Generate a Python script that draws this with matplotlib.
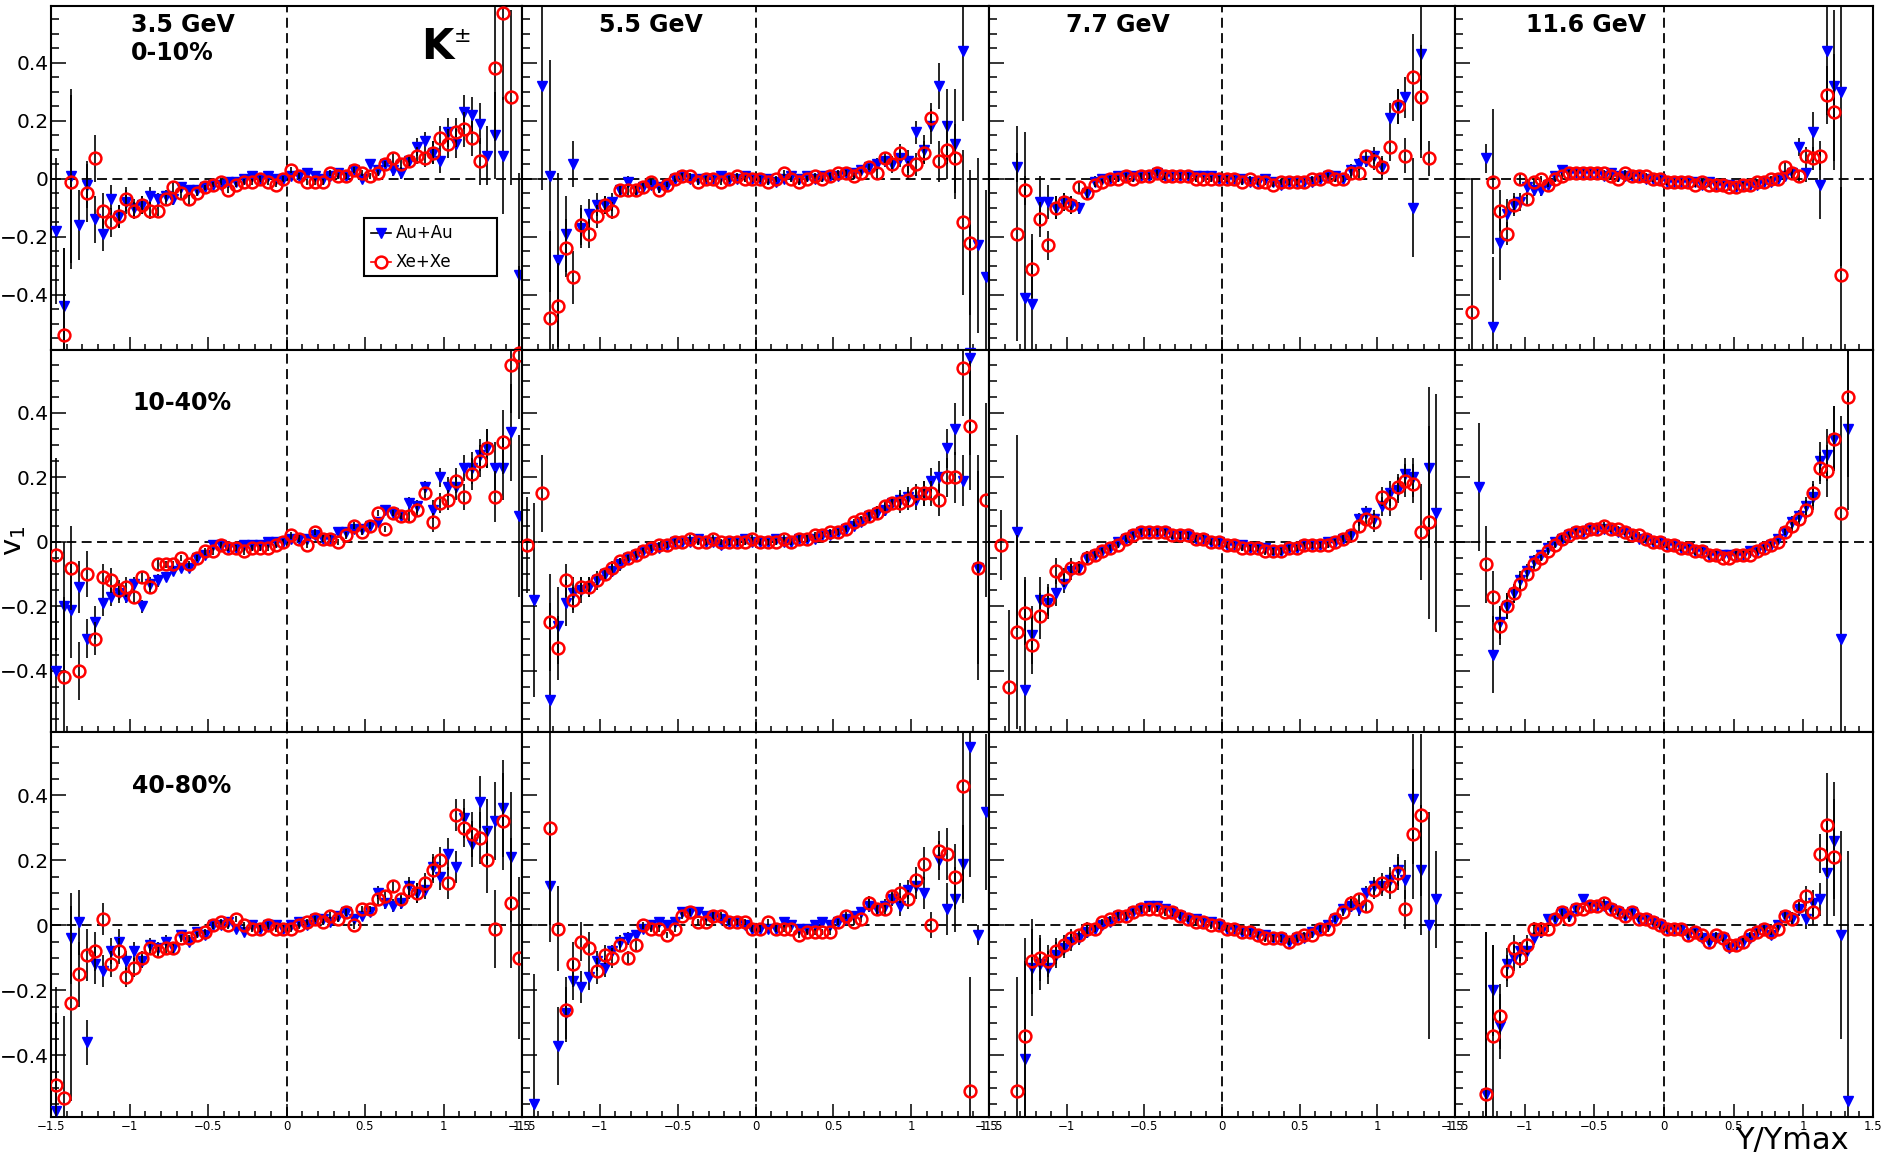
import numpy as np
import matplotlib
matplotlib.use('Agg')
from matplotlib import pyplot as plt
from matplotlib.patches import Rectangle
from matplotlib.ticker import MultipleLocator, FuncFormatter

nan = np.nan

# Y/Ymax bin centres for each beam energy
x_35 = [-1.47, -1.42, -1.37, -1.32, -1.27, -1.22, -1.17, -1.12, -1.07, -1.02,
        -0.97, -0.92, -0.87, -0.82, -0.77, -0.72, -0.67, -0.62, -0.57, -0.52,
        -0.47, -0.42, -0.37, -0.32, -0.27, -0.22, -0.17, -0.12, -0.07, -0.02,
        0.03, 0.08, 0.13, 0.18, 0.23, 0.28, 0.33, 0.38, 0.43, 0.48,
        0.53, 0.58, 0.63, 0.68, 0.73, 0.78, 0.83, 0.88, 0.93, 0.98,
        1.03, 1.08, 1.13, 1.18, 1.23, 1.28, 1.33, 1.38, 1.43, 1.48]
x_55 = x_35
x_77 = [-1.42, -1.37, -1.32, -1.27, -1.22, -1.17, -1.12, -1.07, -1.02, -0.97,
        -0.92, -0.87, -0.82, -0.77, -0.72, -0.67, -0.62, -0.57, -0.52, -0.47,
        -0.42, -0.37, -0.32, -0.27, -0.22, -0.17, -0.12, -0.07, -0.02, 0.03,
        0.08, 0.13, 0.18, 0.23, 0.28, 0.33, 0.38, 0.43, 0.48, 0.53,
        0.58, 0.63, 0.68, 0.73, 0.78, 0.83, 0.88, 0.93, 0.98, 1.03,
        1.08, 1.13, 1.18, 1.23, 1.28, 1.33, 1.38]
x_116 = [-1.38, -1.33, -1.28, -1.23, -1.18, -1.13, -1.08, -1.03, -0.98, -0.93,
         -0.88, -0.83, -0.78, -0.73, -0.68, -0.63, -0.58, -0.53, -0.48, -0.43,
         -0.38, -0.33, -0.28, -0.23, -0.18, -0.13, -0.08, -0.03, 0.02, 0.07,
         0.12, 0.17, 0.22, 0.27, 0.32, 0.37, 0.42, 0.47, 0.52, 0.57,
         0.62, 0.67, 0.72, 0.77, 0.82, 0.87, 0.92, 0.97, 1.02, 1.07,
         1.12, 1.17, 1.22, 1.27, 1.32]

# ---------------- 3.5 GeV ----------------
au_35_0 = [-0.18, -0.44, 0.01, -0.16, -0.02, -0.14, -0.19, -0.07, -0.13, -0.08,
           -0.10, -0.09, -0.06, -0.07, -0.06, -0.07, -0.03, -0.04, -0.04, -0.03,
           -0.02, -0.02, -0.01, -0.01, 0.00, 0.01, 0.00, 0.01, 0.00, 0.00,
           0.01, 0.01, 0.02, 0.01, 0.00, 0.01, 0.02, 0.01, 0.03, 0.00,
           0.05, 0.03, 0.05, 0.03, 0.02, 0.06, 0.11, 0.13, 0.09, 0.06,
           0.16, 0.12, 0.23, 0.22, 0.19, 0.08, 0.15, 0.08, nan, -0.33]
au_35_0_err = [.25, .20, .30, .12, .08, .08, .06, .05, .04, .04,
               .03, .03, .03, .02, .02, .02, .02, .02, .01, .01,
               .01, .01, .01, .01, .01, .01, .01, .01, .01, .01,
               .01, .01, .01, .01, .01, .01, .01, .01, .01, .01,
               .01, .01, .01, .02, .02, .02, .03, .03, .04, .04,
               .05, .05, .06, .06, .07, .10, .15, .20, 0, .35]
xe_35_0 = [nan, -0.54, -0.01, nan, -0.05, 0.07, -0.11, -0.15, -0.13, -0.07,
           -0.11, -0.09, -0.11, -0.11, -0.07, -0.03, -0.05, -0.07, -0.05, -0.03,
           -0.02, -0.01, -0.04, -0.02, -0.01, -0.01, 0.00, -0.01, -0.02, 0.00,
           0.03, 0.01, -0.01, -0.01, -0.01, 0.02, 0.01, 0.01, 0.03, 0.02,
           0.01, 0.02, 0.05, 0.07, 0.05, 0.06, 0.08, 0.07, 0.09, 0.14,
           0.12, 0.16, 0.17, 0.14, 0.06, nan, 0.38, 0.57, 0.28, -0.60]
xe_35_0_err = [0, .30, .30, 0, .10, .08, .06, .05, .04, .04,
               .03, .03, .03, .02, .02, .02, .02, .02, .01, .01,
               .01, .01, .01, .01, .01, .01, .01, .01, .01, .01,
               .01, .01, .01, .01, .01, .01, .01, .01, .01, .01,
               .01, .01, .01, .02, .02, .02, .03, .03, .04, .04,
               .05, .05, .06, .06, .08, 0, .25, .30, .30, .30]

au_35_1 = [-0.40, -0.20, -0.21, -0.14, -0.30, -0.25, -0.19, -0.17, -0.16, -0.17,
           -0.13, -0.20, -0.13, -0.12, -0.11, -0.09, -0.08, -0.08, -0.05, -0.04,
           -0.01, -0.01, -0.02, -0.02, -0.01, -0.01, -0.01, 0.00, 0.00, 0.00,
           0.01, 0.01, 0.01, 0.02, 0.01, 0.01, 0.03, 0.03, 0.04, 0.04,
           0.05, 0.06, 0.10, 0.09, 0.08, 0.12, 0.11, 0.17, 0.10, 0.20,
           0.17, 0.17, 0.23, 0.23, 0.27, 0.29, 0.23, 0.23, 0.34, 0.08]
au_35_1_err = [.20, .20, .15, .08, .06, .05, .04, .03, .03, .02,
               .02, .02, .02, .02, .01, .01, .01, .01, .01, .01,
               .01, .01, .01, .01, .01, .01, .01, .01, .01, .01,
               .01, .01, .01, .01, .01, .01, .01, .01, .01, .01,
               .01, .01, .01, .01, .01, .02, .02, .02, .03, .03,
               .03, .04, .04, .05, .05, .06, .08, .10, .15, .25]
xe_35_1 = [-0.04, -0.42, -0.08, -0.40, -0.10, -0.30, -0.11, -0.12, -0.15, -0.14,
           -0.17, -0.11, -0.14, -0.07, -0.07, -0.07, -0.05, -0.07, -0.05, -0.03,
           -0.03, -0.01, -0.02, -0.02, -0.03, -0.02, -0.02, -0.02, -0.01, 0.00,
           0.02, 0.01, -0.01, 0.03, 0.01, 0.01, 0.00, 0.02, 0.05, 0.03,
           0.05, 0.09, 0.04, 0.09, 0.08, 0.08, 0.10, 0.15, 0.06, 0.12,
           0.13, 0.19, 0.14, 0.21, 0.25, 0.29, 0.14, 0.31, 0.55, 0.58]
xe_35_1_err = [.30, .25, .13, .09, .07, .05, .04, .04, .03, .03,
               .02, .02, .02, .02, .01, .01, .01, .01, .01, .01,
               .01, .01, .01, .01, .01, .01, .01, .01, .01, .01,
               .01, .01, .01, .01, .01, .01, .01, .01, .01, .01,
               .01, .01, .01, .01, .01, .02, .02, .02, .03, .03,
               .03, .04, .04, .05, .05, .06, .08, .10, .15, .20]

au_35_2 = [-0.57, nan, -0.04, 0.01, -0.36, -0.12, -0.14, -0.08, -0.05, -0.11,
           -0.08, -0.11, -0.06, -0.07, -0.05, -0.07, -0.03, -0.05, -0.02, -0.03,
           0.00, 0.00, 0.01, -0.01, -0.02, 0.00, -0.01, 0.00, 0.00, -0.01,
           0.00, 0.01, 0.00, 0.02, 0.02, 0.01, 0.03, 0.04, 0.02, 0.03,
           0.04, 0.10, 0.07, 0.06, 0.07, 0.12, 0.10, 0.11, 0.18, 0.15,
           0.22, 0.18, 0.33, 0.25, 0.38, 0.29, 0.32, 0.36, 0.21, nan]
au_35_2_err = [.30, 0, .14, .10, .07, .06, .05, .04, .04, .03,
               .03, .02, .02, .02, .02, .02, .01, .01, .01, .01,
               .01, .01, .01, .01, .01, .01, .01, .01, .01, .01,
               .01, .01, .01, .01, .01, .01, .01, .01, .01, .01,
               .01, .02, .02, .02, .02, .03, .03, .03, .04, .04,
               .05, .05, .06, .07, .08, .10, .12, .15, .20, 0]
xe_35_2 = [-0.49, -0.53, -0.24, -0.15, -0.09, -0.08, 0.02, -0.12, -0.08, -0.16,
           -0.13, -0.10, -0.07, -0.08, -0.07, -0.07, -0.04, -0.04, -0.03, -0.02,
           0.00, 0.01, 0.00, 0.02, 0.00, -0.01, -0.01, 0.00, -0.01, -0.01,
           -0.01, 0.00, 0.01, 0.02, 0.01, 0.03, 0.02, 0.04, 0.00, 0.05,
           0.05, 0.08, 0.09, 0.12, 0.08, 0.11, 0.10, 0.13, 0.17, 0.20,
           0.13, 0.34, 0.30, 0.28, 0.27, 0.20, -0.01, 0.32, 0.07, -0.10]
xe_35_2_err = [.30, .25, .30, .10, .08, .06, .05, .04, .04, .03,
               .03, .02, .02, .02, .02, .02, .01, .01, .01, .01,
               .01, .01, .01, .01, .01, .01, .01, .01, .01, .01,
               .01, .01, .01, .01, .01, .01, .01, .01, .01, .01,
               .01, .02, .02, .02, .02, .03, .03, .03, .04, .04,
               .05, .05, .06, .07, .08, .10, .12, .15, .20, .25]

# ---------------- 5.5 GeV ----------------
au_55_0 = [nan, nan, 0.32, 0.01, -0.28, -0.19, 0.05, -0.17, -0.12, -0.09,
           -0.09, -0.08, -0.04, -0.01, -0.04, -0.03, -0.02, -0.03, -0.02, 0.00,
           0.01, 0.00, 0.00, 0.00, 0.00, 0.01, 0.00, 0.00, 0.01, 0.00,
           0.00, 0.00, -0.01, 0.00, 0.01, 0.00, 0.01, 0.00, 0.01, 0.01,
           0.01, 0.02, 0.02, 0.03, 0.04, 0.05, 0.06, 0.05, 0.07, 0.06,
           0.16, 0.10, 0.18, 0.32, 0.18, 0.12, 0.44, -0.60, -0.23, -0.34]
au_55_0_err = [0, 0, .36, .40, .30, .13, .08, .07, .05, .04,
               .03, .03, .02, .02, .02, .02, .01, .01, .01, .01,
               .01, .01, .01, .01, .01, .01, .01, .01, .01, .01,
               .01, .01, .01, .01, .01, .01, .01, .01, .01, .01,
               .01, .01, .01, .01, .02, .02, .02, .03, .03, .04,
               .04, .05, .06, .08, .13, .19, .24, .45, .30, .30]
xe_55_0 = [nan, nan, nan, -0.48, -0.44, -0.24, -0.34, -0.16, -0.19, -0.13,
           -0.09, -0.11, -0.04, -0.04, -0.04, -0.03, -0.01, -0.04, -0.02, 0.00,
           0.01, 0.01, -0.01, 0.00, 0.00, -0.01, 0.00, 0.01, 0.00, 0.00,
           0.00, -0.01, 0.00, 0.02, 0.00, -0.01, 0.00, 0.01, 0.00, 0.01,
           0.02, 0.02, 0.01, 0.02, 0.04, 0.02, 0.07, 0.05, 0.09, 0.03,
           0.05, 0.09, 0.21, 0.06, 0.10, 0.07, -0.15, -0.22, nan, nan]
xe_55_0_err = [0, 0, 0, .30, .15, .10, .09, .07, .05, .04,
               .03, .03, .02, .02, .02, .02, .01, .01, .01, .01,
               .01, .01, .01, .01, .01, .01, .01, .01, .01, .01,
               .01, .01, .01, .01, .01, .01, .01, .01, .01, .01,
               .01, .01, .01, .01, .01, .02, .02, .02, .03, .03,
               .04, .04, .05, .07, .10, .12, .25, .25, 0, 0]

au_55_1 = [nan, -0.18, nan, -0.49, -0.26, -0.19, -0.16, -0.15, -0.14, -0.12,
           -0.10, -0.09, -0.07, -0.05, -0.04, -0.03, -0.02, -0.02, -0.01, 0.00,
           0.00, 0.00, 0.01, 0.00, 0.00, -0.01, 0.00, 0.00, 0.01, 0.00,
           0.00, 0.00, 0.01, 0.00, 0.00, 0.01, 0.01, 0.01, 0.02, 0.02,
           0.03, 0.04, 0.05, 0.06, 0.08, 0.09, 0.10, 0.12, 0.13, 0.14,
           0.13, 0.15, 0.19, 0.20, 0.29, 0.35, 0.19, 0.57, -0.08, nan]
au_55_1_err = [0, .30, 0, .30, .12, .07, .05, .04, .03, .03,
               .02, .02, .02, .01, .01, .01, .01, .01, .01, .01,
               .01, .01, .01, .01, .01, .01, .01, .01, .01, .01,
               .01, .01, .01, .01, .01, .01, .01, .01, .01, .01,
               .01, .01, .01, .01, .02, .02, .02, .02, .03, .03,
               .03, .04, .04, .05, .06, .08, .08, .30, .35, 0]
xe_55_1 = [-0.01, nan, 0.15, -0.25, -0.33, -0.12, -0.18, -0.14, -0.14, -0.12,
           -0.10, -0.08, -0.06, -0.05, -0.04, -0.03, -0.02, -0.01, -0.01, 0.00,
           0.00, 0.01, 0.00, 0.00, 0.01, 0.00, 0.00, 0.00, 0.00, 0.01,
           0.00, 0.00, 0.00, 0.01, 0.00, 0.01, 0.01, 0.02, 0.02, 0.03,
           0.03, 0.04, 0.06, 0.07, 0.08, 0.09, 0.11, 0.12, 0.12, 0.13,
           0.15, 0.15, 0.15, 0.13, 0.20, 0.20, 0.54, 0.36, -0.08, 0.13]
xe_55_1_err = [.15, 0, .12, .15, .10, .05, .04, .03, .03, .02,
               .02, .02, .01, .01, .01, .01, .01, .01, .01, .01,
               .01, .01, .01, .01, .01, .01, .01, .01, .01, .01,
               .01, .01, .01, .01, .01, .01, .01, .01, .01, .01,
               .01, .01, .01, .01, .02, .02, .02, .02, .03, .03,
               .03, .04, .04, .05, .06, .08, .15, .20, .30, .30]

au_55_2 = [nan, -0.55, nan, 0.12, -0.37, -0.27, -0.17, -0.19, -0.16, -0.11,
           -0.13, -0.08, -0.05, -0.04, -0.03, -0.01, 0.00, 0.01, 0.00, 0.01,
           0.04, 0.04, 0.04, 0.03, 0.03, 0.02, 0.01, 0.01, 0.00, -0.01,
           -0.01, -0.01, -0.01, 0.01, 0.00, -0.01, -0.01, 0.00, 0.01, 0.00,
           0.01, 0.02, 0.03, 0.04, 0.06, 0.05, 0.06, 0.08, 0.06, 0.11,
           0.12, 0.10, nan, 0.20, 0.05, 0.08, 0.19, 0.55, -0.03, 0.35]
au_55_2_err = [0, .40, 0, .17, .12, .08, .06, .05, .04, .03,
               .03, .02, .02, .02, .01, .01, .01, .01, .01, .01,
               .01, .01, .01, .01, .01, .01, .01, .01, .01, .01,
               .01, .01, .01, .01, .01, .01, .01, .01, .01, .01,
               .01, .01, .01, .01, .02, .02, .02, .02, .03, .03,
               .04, .05, 0, .06, .08, .10, .12, .40, .03, .24]
xe_55_2 = [nan, nan, nan, 0.30, -0.01, -0.26, -0.12, -0.05, -0.07, -0.14,
           -0.09, -0.10, -0.06, -0.10, -0.06, 0.00, -0.01, -0.01, -0.03, -0.01,
           0.03, 0.04, 0.01, 0.01, 0.03, 0.03, 0.01, 0.01, 0.01, -0.01,
           -0.01, 0.01, -0.01, -0.01, -0.01, -0.03, -0.02, -0.02, -0.02, -0.02,
           0.01, 0.03, 0.01, 0.02, 0.07, 0.05, 0.05, 0.09, 0.10, 0.08,
           0.14, 0.19, 0.00, 0.23, 0.22, 0.15, 0.43, -0.51, nan, nan]
xe_55_2_err = [0, 0, 0, .30, .13, .10, .07, .06, .05, .04,
               .03, .03, .02, .02, .02, .01, .01, .01, .01, .01,
               .01, .01, .01, .01, .01, .01, .01, .01, .01, .01,
               .01, .01, .01, .01, .01, .01, .01, .01, .01, .01,
               .01, .01, .01, .01, .02, .02, .02, .02, .03, .03,
               .04, .05, .04, .06, .08, .10, .35, .35, 0, 0]

# ---------------- 7.7 GeV ----------------
au_77_0 = [nan, nan, 0.04, -0.41, -0.43, -0.08, -0.08, -0.10, -0.08, -0.09,
           -0.10, -0.05, -0.01, 0.00, 0.00, 0.01, 0.01, 0.01, 0.01, 0.01,
           0.02, 0.01, 0.01, 0.01, 0.01, 0.01, 0.01, 0.01, 0.00, 0.00,
           0.00, 0.00, -0.01, -0.01, 0.00, -0.01, -0.02, -0.01, -0.01, -0.01,
           -0.01, 0.00, 0.01, 0.01, 0.00, 0.03, 0.05, 0.06, 0.08, 0.04,
           0.21, 0.25, 0.28, -0.10, 0.43, nan, nan]
au_77_0_err = [0, 0, .05, .57, .24, .09, .06, .04, .03, .03,
               .02, .02, .02, .01, .01, .01, .01, .01, .01, .01,
               .01, .01, .01, .01, .01, .01, .01, .01, .01, .01,
               .01, .01, .01, .01, .01, .01, .01, .01, .01, .01,
               .01, .01, .01, .01, .01, .02, .02, .02, .03, .03,
               .05, .06, .07, .17, .36, 0, 0]
xe_77_0 = [nan, nan, -0.19, -0.04, -0.31, -0.14, -0.23, -0.10, -0.08, -0.09,
           -0.03, -0.05, -0.02, -0.01, 0.00, 0.00, 0.01, 0.00, 0.01, 0.01,
           0.02, 0.01, 0.01, 0.01, 0.01, 0.00, 0.00, 0.00, 0.00, 0.00,
           0.00, -0.01, 0.00, -0.01, -0.01, -0.02, -0.01, -0.01, -0.01, -0.01,
           0.00, 0.00, 0.01, 0.00, 0.00, 0.02, 0.02, 0.08, 0.06, 0.04,
           0.11, 0.25, 0.08, 0.35, 0.28, 0.07, nan]
xe_77_0_err = [0, 0, .37, .05, .10, .06, .05, .04, .03, .03,
               .02, .02, .01, .01, .01, .01, .01, .01, .01, .01,
               .01, .01, .01, .01, .01, .01, .01, .01, .01, .01,
               .01, .01, .01, .01, .01, .01, .01, .01, .01, .01,
               .01, .01, .01, .01, .01, .02, .02, .02, .03, .04,
               .05, .06, .06, .15, .18, .06, 0]

au_77_1 = [nan, nan, 0.03, -0.46, -0.29, -0.18, -0.19, -0.16, -0.13, -0.09,
           -0.08, -0.05, -0.04, -0.03, -0.02, 0.00, 0.01, 0.02, 0.03, 0.03,
           0.03, 0.03, 0.02, 0.02, 0.02, 0.01, 0.01, 0.00, 0.00, -0.01,
           -0.01, -0.01, -0.02, -0.02, -0.02, -0.03, -0.03, -0.02, -0.02, -0.01,
           -0.01, -0.01, 0.00, 0.00, 0.01, 0.02, 0.07, 0.09, 0.07, 0.11,
           0.15, 0.16, 0.21, 0.20, nan, 0.23, 0.09]
au_77_1_err = [0, 0, .30, .35, .09, .07, .05, .04, .03, .03,
               .02, .02, .01, .01, .01, .01, .01, .01, .01, .01,
               .01, .01, .01, .01, .01, .01, .01, .01, .01, .01,
               .01, .01, .01, .01, .01, .01, .01, .01, .01, .01,
               .01, .01, .01, .01, .01, .02, .02, .02, .03, .03,
               .04, .04, .05, .06, 0, .25, .37]
xe_77_1 = [-0.01, -0.45, -0.28, -0.22, -0.32, -0.23, -0.18, -0.09, -0.11, -0.08,
           -0.08, -0.05, -0.04, -0.03, -0.02, -0.01, 0.01, 0.02, 0.03, 0.03,
           0.03, 0.03, 0.02, 0.02, 0.02, 0.01, 0.01, 0.00, 0.00, -0.01,
           -0.01, -0.02, -0.02, -0.02, -0.03, -0.03, -0.03, -0.02, -0.02, -0.01,
           -0.01, -0.01, -0.01, 0.00, 0.01, 0.02, 0.05, 0.07, 0.06, 0.14,
           0.12, 0.17, 0.19, 0.18, 0.03, 0.06, nan]
xe_77_1_err = [.11, .24, .30, .10, .09, .07, .05, .04, .03, .03,
               .02, .02, .01, .01, .01, .01, .01, .01, .01, .01,
               .01, .01, .01, .01, .01, .01, .01, .01, .01, .01,
               .01, .01, .01, .01, .01, .01, .01, .01, .01, .01,
               .01, .01, .01, .01, .01, .02, .02, .02, .03, .03,
               .04, .04, .05, .06, .15, .30, 0]

au_77_2 = [nan, nan, nan, -0.41, -0.13, -0.12, -0.13, -0.09, -0.07, -0.05,
           -0.04, -0.02, -0.01, 0.00, 0.01, 0.03, 0.03, 0.04, 0.05, 0.06,
           0.06, 0.05, 0.04, 0.03, 0.02, 0.02, 0.01, 0.01, 0.00, -0.01,
           -0.01, -0.02, -0.02, -0.03, -0.03, -0.04, -0.04, -0.05, -0.04, -0.04,
           -0.02, -0.01, 0.00, 0.02, 0.05, 0.06, 0.05, 0.10, 0.12, 0.12,
           0.14, 0.17, 0.14, 0.39, 0.17, 0.00, 0.08]
au_77_2_err = [0, 0, 0, .30, .15, .08, .05, .04, .03, .03,
               .02, .02, .01, .01, .01, .01, .01, .01, .01, .01,
               .01, .01, .01, .01, .01, .01, .01, .01, .01, .01,
               .01, .01, .01, .01, .01, .01, .01, .01, .01, .01,
               .01, .01, .01, .01, .01, .02, .02, .02, .03, .03,
               .04, .05, .06, .20, .20, .35, .15]
xe_77_2 = [nan, nan, -0.51, -0.34, -0.11, -0.10, -0.11, -0.08, -0.06, -0.04,
           -0.03, -0.01, -0.01, 0.01, 0.02, 0.03, 0.03, 0.04, 0.05, 0.05,
           0.05, 0.04, 0.04, 0.03, 0.02, 0.01, 0.01, 0.00, 0.00, -0.01,
           -0.01, -0.02, -0.02, -0.03, -0.04, -0.04, -0.04, -0.05, -0.04, -0.03,
           -0.03, -0.01, -0.01, 0.02, 0.04, 0.07, 0.08, 0.06, 0.11, 0.13,
           0.12, 0.16, 0.05, 0.28, 0.34, nan, nan]
xe_77_2_err = [0, 0, .35, .30, .10, .07, .05, .04, .03, .03,
               .02, .02, .01, .01, .01, .01, .01, .01, .01, .01,
               .01, .01, .01, .01, .01, .01, .01, .01, .01, .01,
               .01, .01, .01, .01, .01, .01, .01, .01, .01, .01,
               .01, .01, .01, .01, .01, .02, .02, .02, .03, .03,
               .04, .05, .06, .20, .25, 0, 0]

# ---------------- 11.6 GeV ----------------
au_116_0 = [nan, nan, 0.07, -0.51, -0.22, -0.12, -0.09, -0.08, -0.03, -0.04,
            -0.04, -0.02, 0.01, 0.03, 0.02, 0.02, 0.02, 0.02, 0.02, 0.01,
            0.02, 0.01, 0.01, 0.01, 0.01, 0.00, 0.00, 0.00, -0.01, -0.01,
            -0.01, -0.01, -0.01, -0.02, -0.01, -0.02, -0.02, -0.02, -0.03, -0.02,
            -0.02, -0.02, -0.01, -0.01, 0.00, 0.01, 0.02, 0.11, 0.02, 0.16,
            -0.02, 0.44, 0.32, 0.30, nan]
au_116_0_err = [0, 0, .05, .24, .13, .05, .04, .03, .03, .02,
                .02, .01, .01, .01, .01, .01, .01, .01, .01, .01,
                .01, .01, .01, .01, .01, .01, .01, .01, .01, .01,
                .01, .01, .01, .01, .01, .01, .01, .01, .01, .01,
                .01, .01, .01, .01, .01, .01, .02, .03, .03, .07,
                .12, .22, .26, .60, 0]
xe_116_0 = [-0.46, nan, nan, -0.01, -0.11, -0.19, -0.09, 0.00, -0.07, -0.01,
            0.00, -0.02, 0.00, 0.01, 0.02, 0.02, 0.02, 0.02, 0.02, 0.02,
            0.01, 0.00, 0.02, 0.01, 0.01, 0.01, 0.00, 0.00, -0.01, -0.01,
            -0.01, -0.01, -0.02, -0.01, -0.02, -0.02, -0.02, -0.03, -0.03, -0.02,
            -0.02, -0.01, -0.01, 0.00, 0.00, 0.04, 0.02, 0.01, 0.08, 0.07,
            0.08, 0.29, 0.23, -0.33, nan]
xe_116_0_err = [.46, 0, 0, .25, .07, .04, .03, .02, .02, .01,
                .01, .01, .01, .01, .01, .01, .01, .01, .01, .01,
                .01, .01, .01, .01, .01, .01, .01, .01, .01, .01,
                .01, .01, .01, .01, .01, .01, .01, .01, .01, .01,
                .01, .01, .01, .01, .01, .02, .02, .02, .03, .04,
                .05, .10, .20, .30, 0]

au_116_1 = [nan, 0.17, nan, -0.35, -0.25, -0.20, -0.16, -0.12, -0.09, -0.06,
            -0.04, -0.02, 0.00, 0.01, 0.02, 0.03, 0.03, 0.04, 0.04, 0.04,
            0.04, 0.03, 0.03, 0.02, 0.01, 0.01, 0.00, 0.00, -0.01, -0.01,
            -0.02, -0.02, -0.03, -0.03, -0.04, -0.04, -0.04, -0.04, -0.04, -0.04,
            -0.03, -0.03, -0.02, -0.01, 0.01, 0.03, 0.06, 0.08, 0.11, 0.14,
            0.25, 0.27, 0.32, -0.30, 0.35]
au_116_1_err = [0, .20, 0, .12, .05, .04, .03, .03, .02, .02,
                .01, .01, .01, .01, .01, .01, .01, .01, .01, .01,
                .01, .01, .01, .01, .01, .01, .01, .01, .01, .01,
                .01, .01, .01, .01, .01, .01, .01, .01, .01, .01,
                .01, .01, .01, .01, .01, .01, .02, .02, .03, .04,
                .06, .08, .10, .30, .25]
xe_116_1 = [nan, nan, -0.07, -0.17, -0.26, -0.20, -0.16, -0.13, -0.10, -0.07,
            -0.05, -0.03, -0.01, 0.01, 0.02, 0.03, 0.03, 0.04, 0.04, 0.05,
            0.04, 0.04, 0.03, 0.02, 0.02, 0.01, 0.00, 0.00, -0.01, -0.01,
            -0.02, -0.02, -0.03, -0.03, -0.04, -0.04, -0.05, -0.05, -0.04, -0.04,
            -0.04, -0.03, -0.02, -0.01, 0.00, 0.03, 0.05, 0.07, 0.10, 0.15,
            0.23, 0.22, 0.32, 0.09, 0.45]
xe_116_1_err = [0, 0, .12, .08, .06, .04, .03, .03, .02, .02,
                .01, .01, .01, .01, .01, .01, .01, .01, .01, .01,
                .01, .01, .01, .01, .01, .01, .01, .01, .01, .01,
                .01, .01, .01, .01, .01, .01, .01, .01, .01, .01,
                .01, .01, .01, .01, .01, .01, .02, .02, .03, .04,
                .05, .08, .10, .30, .25]

au_116_2 = [nan, nan, -0.52, -0.20, -0.31, -0.12, -0.10, -0.08, -0.08, -0.04,
            -0.02, 0.02, 0.02, 0.04, 0.03, 0.05, 0.08, 0.06, 0.06, 0.06,
            0.05, 0.04, 0.03, 0.04, 0.02, 0.02, 0.01, 0.00, -0.01, -0.01,
            -0.01, -0.03, -0.02, -0.04, -0.05, -0.04, -0.04, -0.07, -0.06, -0.05,
            -0.04, -0.02, -0.01, -0.03, 0.00, 0.03, 0.02, 0.05, 0.02, 0.07,
            0.08, 0.16, 0.26, -0.03, -0.54]
au_116_2_err = [0, 0, .50, .14, .10, .05, .04, .03, .03, .02,
                .02, .01, .01, .01, .01, .01, .01, .01, .01, .01,
                .01, .01, .01, .01, .01, .01, .01, .01, .01, .01,
                .01, .01, .01, .01, .01, .01, .01, .01, .01, .01,
                .01, .01, .01, .01, .01, .01, .02, .02, .03, .04,
                .05, .16, .18, .32, .77]
xe_116_2 = [nan, nan, -0.52, -0.34, -0.28, -0.14, -0.07, -0.10, -0.06, -0.01,
            -0.01, -0.01, 0.02, 0.04, 0.02, 0.05, 0.05, 0.06, 0.06, 0.07,
            0.05, 0.04, 0.03, 0.04, 0.02, 0.02, 0.01, 0.00, -0.01, -0.01,
            -0.01, -0.03, -0.02, -0.03, -0.05, -0.03, -0.04, -0.06, -0.06, -0.05,
            -0.03, -0.02, -0.01, -0.02, -0.01, 0.03, 0.02, 0.06, 0.09, 0.04,
            0.22, 0.31, 0.21, nan, nan]
xe_116_2_err = [0, 0, .50, .28, .10, .05, .04, .03, .03, .02,
                .02, .01, .01, .01, .01, .01, .01, .01, .01, .01,
                .01, .01, .01, .01, .01, .01, .01, .01, .01, .01,
                .01, .01, .01, .01, .01, .01, .01, .01, .01, .01,
                .01, .01, .01, .01, .01, .01, .02, .02, .03, .04,
                .06, .16, .18, 0, 0]

energies = ['3.5 GeV', '5.5 GeV', '7.7 GeV', '11.6 GeV']
centralities = ['0-10%', '10-40%', '40-80%']
x_bins = [x_35, x_55, x_77, x_116]
au_vals = [[au_35_0, au_55_0, au_77_0, au_116_0],
           [au_35_1, au_55_1, au_77_1, au_116_1],
           [au_35_2, au_55_2, au_77_2, au_116_2]]
au_errs = [[au_35_0_err, au_55_0_err, au_77_0_err, au_116_0_err],
           [au_35_1_err, au_55_1_err, au_77_1_err, au_116_1_err],
           [au_35_2_err, au_55_2_err, au_77_2_err, au_116_2_err]]
xe_vals = [[xe_35_0, xe_55_0, xe_77_0, xe_116_0],
           [xe_35_1, xe_55_1, xe_77_1, xe_116_1],
           [xe_35_2, xe_55_2, xe_77_2, xe_116_2]]
xe_errs = [[xe_35_0_err, xe_55_0_err, xe_77_0_err, xe_116_0_err],
           [xe_35_1_err, xe_55_1_err, xe_77_1_err, xe_116_1_err],
           [xe_35_2_err, xe_55_2_err, xe_77_2_err, xe_116_2_err]]

W, H = 1895, 1153
# pad frames in pixels (left, right) and (top, bottom)
col_px = [(51, 522), (522, 989), (989, 1455), (1455, 1873)]
row_px = [(6, 350), (350, 732), (732, 1117)]

BLUE = '#0000ff'
RED = '#ff0000'


def fmt(v, pos):
    if abs(v) < 1e-9:
        return '0'
    return ('%g' % round(v, 2)).replace('-', '\u2212')


fig = plt.figure(figsize=(W / 100, H / 100), dpi=100)

for r in range(3):
    for c in range(4):
        x0, x1 = col_px[c]
        y0, y1 = row_px[r]
        ax = fig.add_axes([x0 / W, 1 - y1 / H, (x1 - x0) / W, (y1 - y0) / H])

        ax.axhline(0, color='black', lw=1.3, ls=(0, (5.5, 3)), zorder=1)
        ax.axvline(0, color='black', lw=1.3, ls=(0, (5.5, 3)), zorder=1)

        ax.errorbar(x_bins[c], au_vals[r][c], yerr=au_errs[r][c], fmt='v',
                    color=BLUE, ms=7.5, ecolor='black', elinewidth=1.2,
                    capsize=0, zorder=3)
        ax.errorbar(x_bins[c], xe_vals[r][c], yerr=xe_errs[r][c], fmt='o',
                    mfc='none', mec=RED, mew=1.8, ms=8.5, ecolor='black',
                    elinewidth=1.2, capsize=0, zorder=4)

        ax.set_xlim(-1.5, 1.5)
        ax.set_ylim(-0.59, 0.595)
        ax.xaxis.set_major_locator(MultipleLocator(0.5))
        ax.xaxis.set_minor_locator(MultipleLocator(0.1))
        ax.yaxis.set_major_locator(MultipleLocator(0.2))
        ax.yaxis.set_minor_locator(MultipleLocator(0.05))
        ax.xaxis.set_major_formatter(FuncFormatter(fmt))
        ax.yaxis.set_major_formatter(FuncFormatter(fmt))
        ax.tick_params(which='both', direction='in', top=False, right=False,
                       width=1.1, color='black')
        ax.tick_params(axis='y', which='major', length=10.5, pad=1.5, labelsize=14.5)
        ax.tick_params(axis='y', which='minor', length=5.5)
        ax.tick_params(axis='x', which='major', length=9.5, pad=2, labelsize=8.5)
        ax.tick_params(axis='x', which='minor', length=4.5)
        if c > 0:
            ax.tick_params(labelleft=False)
        if r < 2:
            ax.tick_params(labelbottom=False)
        for s in ax.spines.values():
            s.set_linewidth(1.5)

        if r == 0:
            tx = [0.169, 0.164, 0.165, 0.171][c]
            ax.text(tx, 0.945, energies[c], transform=ax.transAxes,
                    fontsize=17, fontweight='bold', ha='left', va='center')
        if c == 0:
            ax.text(0.169 if r == 0 else 0.172, 0.863 if r == 0 else 0.861,
                    centralities[r], transform=ax.transAxes, fontsize=17,
                    fontweight='bold', ha='left', va='center')

        if r == 0 and c == 0:
            ax.text(0.785, 0.881, 'K', transform=ax.transAxes, fontsize=30,
                    fontweight='bold', ha='left', va='center')
            ax.text(0.856, 0.912, '\u00b1', transform=ax.transAxes,
                    fontsize=15, ha='left', va='center')
            # legend box
            ax.add_patch(Rectangle((0.664, 0.215), 0.282, 0.169,
                                   transform=ax.transAxes, facecolor='white',
                                   edgecolor='black', lw=1.5, zorder=6))
            ax.plot([0.679, 0.722], [0.340, 0.340], transform=ax.transAxes,
                    color='black', lw=1.2, zorder=7)
            ax.plot([0.700], [0.340], transform=ax.transAxes, marker='v',
                    color=BLUE, ms=7.5, ls='none', zorder=8)
            ax.plot([0.679, 0.722], [0.256, 0.256], transform=ax.transAxes,
                    color=RED, lw=1.2, zorder=7)
            ax.plot([0.700], [0.256], transform=ax.transAxes, marker='o',
                    mfc='white', mec=RED, mew=1.8, ms=8.5, ls='none', zorder=8)
            ax.text(0.732, 0.340, 'Au+Au', transform=ax.transAxes, fontsize=12,
                    ha='left', va='center', zorder=9)
            ax.text(0.732, 0.256, 'Xe+Xe', transform=ax.transAxes, fontsize=12,
                    ha='left', va='center', zorder=9)
            ax.set_xlim(-1.5, 1.5)
            ax.set_ylim(-0.59, 0.595)

fig.text(0.0075, 1 - 541 / H, r'v$_1$', rotation=90, fontsize=21,
         ha='center', va='center')
fig.text(1849 / W, 1 - 1140 / H, 'Y/Ymax', fontsize=22, ha='right', va='center')

fig.savefig('out.png', dpi=100)
